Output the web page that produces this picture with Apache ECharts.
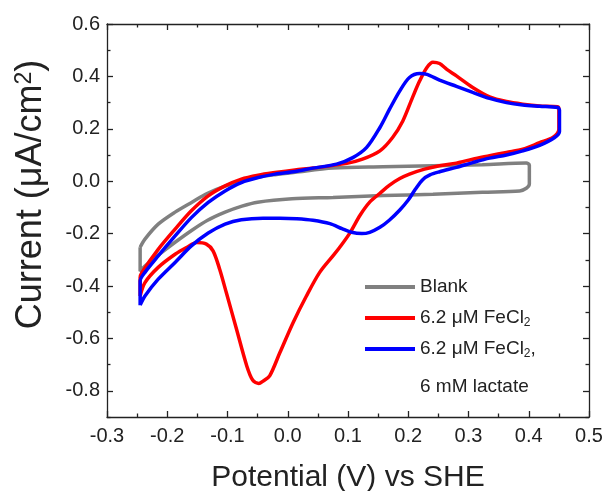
<!DOCTYPE html>
<html>
<head>
<meta charset="utf-8">
<script src="https://cdn.jsdelivr.net/npm/echarts@6/dist/echarts.min.js"></script>
<style>html,body{margin:0;padding:0;background:#fff}#c{width:605px;height:491px}</style>
</head>
<body>
<div id="c"></div>
<script>
// Blank
const blankV = [-0.245,-0.237,-0.215,-0.187,-0.159,-0.133,-0.104,-0.076,-0.050,-0.021,0.012,0.075,0.158,0.241,0.323,0.396,0.401,0.401,0.396,0.385,0.323,0.241,0.158,0.075,0.007,-0.050,-0.076,-0.104,-0.133,-0.159,-0.187,-0.215,-0.237,-0.245,-0.245];
const blankI = [-0.252,-0.221,-0.164,-0.118,-0.080,-0.046,-0.019,0.000,0.015,0.025,0.034,0.050,0.055,0.059,0.063,0.069,0.061,-0.011,-0.027,-0.037,-0.042,-0.050,-0.055,-0.062,-0.067,-0.080,-0.095,-0.118,-0.149,-0.187,-0.233,-0.282,-0.324,-0.344,-0.252];
// 6.2 uM FeCl2
const feV = [-0.245,-0.245,-0.242,-0.215,-0.187,-0.160,-0.132,-0.104,-0.077,-0.049,-0.021,0.012,0.042,0.098,0.124,0.153,0.174,0.191,0.207,0.219,0.231,0.241,0.252,0.264,0.280,0.307,0.335,0.363,0.390,0.418,0.448,0.450,0.450,0.440,0.418,0.390,0.363,0.335,0.307,0.280,0.252,0.227,0.202,0.186,0.169,0.153,0.136,0.120,0.103,0.086,0.075,0.053,0.031,0.009,-0.013,-0.030,-0.041,-0.048,-0.058,-0.068,-0.085,-0.102,-0.113,-0.124,-0.135,-0.151,-0.168,-0.187,-0.215,-0.237,-0.245];
const feI = [-0.438,-0.368,-0.348,-0.260,-0.183,-0.113,-0.056,-0.018,0.008,0.023,0.033,0.043,0.050,0.068,0.084,0.116,0.167,0.230,0.319,0.383,0.434,0.454,0.449,0.427,0.402,0.358,0.322,0.304,0.294,0.287,0.284,0.275,0.198,0.167,0.147,0.122,0.110,0.097,0.084,0.069,0.059,0.046,0.027,0.010,-0.015,-0.046,-0.080,-0.130,-0.198,-0.253,-0.285,-0.348,-0.438,-0.539,-0.654,-0.743,-0.763,-0.772,-0.760,-0.705,-0.565,-0.425,-0.336,-0.266,-0.240,-0.234,-0.253,-0.279,-0.329,-0.387,-0.438];
// 6.2 uM FeCl2, 6 mM lactate
const lacV = [-0.245,-0.245,-0.237,-0.215,-0.187,-0.160,-0.132,-0.104,-0.077,-0.049,-0.021,0.012,0.042,0.081,0.108,0.131,0.153,0.169,0.186,0.202,0.219,0.231,0.252,0.280,0.307,0.335,0.363,0.390,0.418,0.448,0.451,0.451,0.443,0.418,0.390,0.363,0.335,0.307,0.280,0.252,0.236,0.224,0.212,0.200,0.186,0.169,0.153,0.136,0.123,0.106,0.090,0.070,0.042,0.015,-0.013,-0.041,-0.077,-0.104,-0.132,-0.160,-0.187,-0.215,-0.237,-0.245];
const lacI = [-0.473,-0.381,-0.348,-0.285,-0.209,-0.139,-0.081,-0.037,-0.005,0.014,0.027,0.037,0.050,0.065,0.090,0.129,0.205,0.275,0.345,0.396,0.411,0.408,0.386,0.362,0.339,0.316,0.300,0.291,0.286,0.281,0.271,0.190,0.167,0.137,0.116,0.100,0.088,0.071,0.053,0.036,0.024,0.006,-0.030,-0.072,-0.110,-0.148,-0.176,-0.195,-0.200,-0.195,-0.181,-0.162,-0.149,-0.143,-0.141,-0.141,-0.147,-0.164,-0.198,-0.247,-0.310,-0.374,-0.438,-0.473];

const seriesNames = ['Blank', '6.2 μM FeCl2', '6.2 μM FeCl2,'];
const legendLabels = ['Blank', '6.2 μM FeCl{s|2}', '6.2 μM FeCl{s|2},'];
const legendExtra = '6 mM lactate';
const yMajorTicks = [-0.8,-0.6,-0.4,-0.2,0.0,0.2,0.4,0.6];
const yMinorTicks = [-0.9,-0.7,-0.5,-0.3,-0.1,0.1,0.3,0.5];
const xMin = -0.3, xMax = 0.5, xStep = 0.1;
const yMin = -0.9, yMax = 0.6;

const zip = (a, b) => a.map((v, i) => [v, b[i]]);
const FONT = 'Liberation Sans, Arial, sans-serif';
const AX = '#222';

const chart = echarts.init(document.getElementById('c'), null, {renderer: 'canvas'});

const xBase = (pos, labels) => ({
  type: 'value', position: pos, min: xMin, max: xMax, interval: xStep,
  axisLine: {show: true, onZero: false, lineStyle: {color: AX, width: 1.3}},
  axisTick: {show: true, inside: true, length: 6, lineStyle: {color: AX, width: 1.3}},
  minorTick: {show: true, splitNumber: 2, length: 3.5, lineStyle: {color: AX, width: 1.3}},
  splitLine: {show: false},
  axisLabel: labels ? {show: true, margin: 9, fontSize: 20, color: AX, fontFamily: FONT,
    formatter: v => v.toFixed(1)} : {show: false}
});
const yBase = (pos, ticks, len, labels, line) => ({
  type: 'value', position: pos, min: yMin, max: yMax,
  axisLine: {show: line, onZero: false, lineStyle: {color: AX, width: 1.3}},
  axisTick: {show: true, inside: true, length: len, customValues: ticks, lineStyle: {color: AX, width: 1.3}},
  splitLine: {show: false},
  axisLabel: labels ? {show: true, margin: 7, fontSize: 20, color: AX, fontFamily: FONT,
    customValues: ticks, formatter: v => v.toFixed(1)} : {show: false}
});

const yMain = yBase('left', yMajorTicks, 6, true, true);
yMain.name = 'Current (μA/cm{sup|2})';
yMain.nameLocation = 'middle';
yMain.nameRotate = 90;
yMain.nameGap = 57;
yMain.nameTextStyle = {fontSize: 36, color: AX, fontFamily: FONT, padding: [0, 0, 0, 52],
  rich: {sup: {fontSize: 23, fontFamily: FONT, color: AX, verticalAlign: 'top', lineHeight: 37}}};

const xMain = xBase('bottom', true);
xMain.name = 'Potential (V) vs SHE';
xMain.nameLocation = 'middle';
xMain.nameGap = 46;
xMain.nameTextStyle = {fontSize: 30, color: AX, fontFamily: FONT};

const colors = ['#808080', '#ff0000', '#0000ff'];
const datasets = [zip(blankV, blankI), zip(feV, feI), zip(lacV, lacI)];

chart.setOption({
  animation: false,
  grid: {left: 107, right: 16, top: 24, bottom: 74, containLabel: false, outerBoundsMode: 'none'},
  xAxis: [xMain, xBase('top', false)],
  yAxis: [
    yMain,
    yBase('left', yMinorTicks, 3.5, false, false),
    yBase('right', yMajorTicks, 6, false, true),
    yBase('right', yMinorTicks, 3.5, false, false)
  ],
  legend: {
    orient: 'vertical', left: 365, top: 276, itemGap: 9, padding: 0,
    itemWidth: 50, itemHeight: 4, icon: 'rect',
    data: seriesNames,
    formatter: name => legendLabels[seriesNames.indexOf(name)],
    textStyle: {fontSize: 19, color: AX, fontFamily: FONT, lineHeight: 22,
      rich: {s: {fontSize: 12, lineHeight: 10, verticalAlign: 'bottom', color: AX, fontFamily: FONT}}}
  },
  graphic: [{
    type: 'text', left: 420, top: 377,
    style: {text: legendExtra, fontSize: 19, fill: AX, fontFamily: FONT}
  }],
  series: datasets.map((d, i) => ({
    name: seriesNames[i], type: 'line', data: d, xAxisIndex: 0, yAxisIndex: 0,
    showSymbol: false, smooth: 0.3, color: colors[i],
    lineStyle: {color: colors[i], width: 3.5}
  }))
});
</script>
</body>
</html>
